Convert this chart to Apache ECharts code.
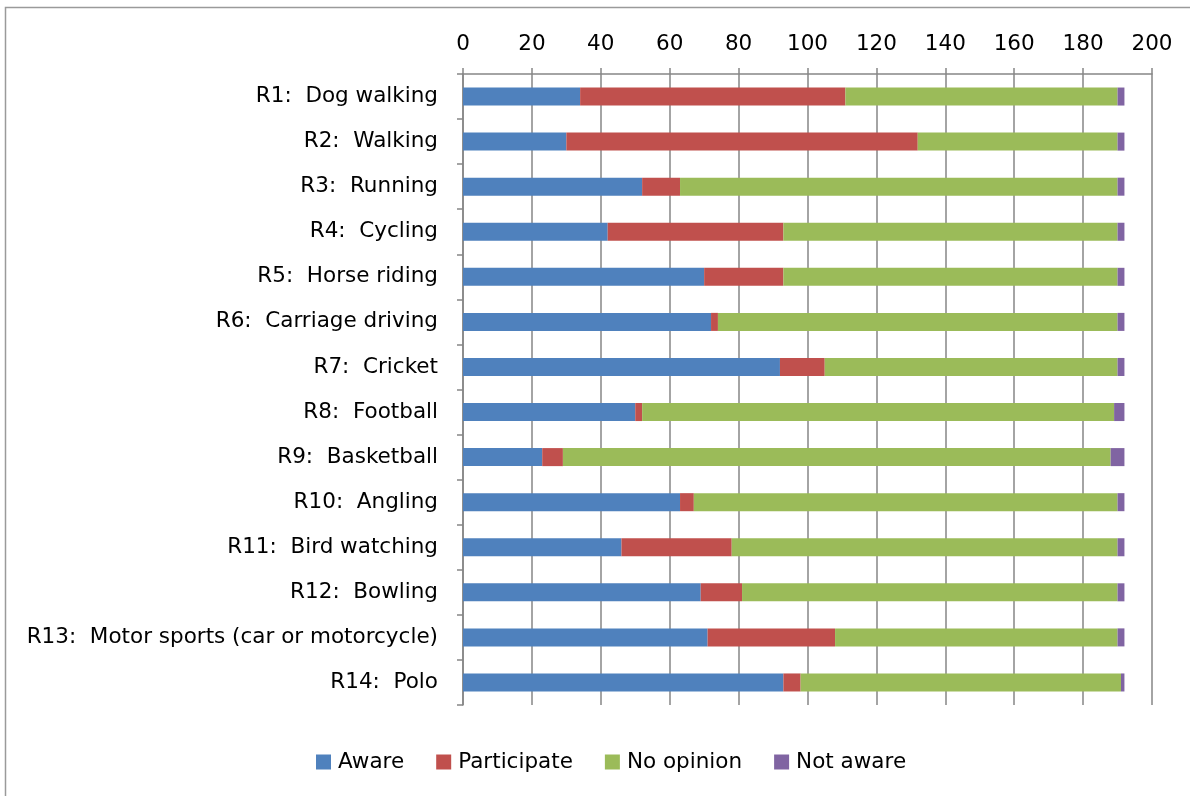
<!DOCTYPE html>
<html>
<head>
<meta charset="utf-8">
<script src="https://cdn.jsdelivr.net/npm/echarts@6/dist/echarts.min.js"></script>
<style>
  html, body { margin: 0; padding: 0; background: #fff; }
  #chart { width: 1190px; height: 796px; }
</style>
</head>
<body>
<div id="chart"></div>
<script>
// categories, top to bottom
var categories = [
  "R1:  Dog walking",
  "R2:  Walking",
  "R3:  Running",
  "R4:  Cycling",
  "R5:  Horse riding",
  "R6:  Carriage driving",
  "R7:  Cricket",
  "R8:  Football",
  "R9:  Basketball",
  "R10:  Angling",
  "R11:  Bird watching",
  "R12:  Bowling",
  "R13:  Motor sports (car or motorcycle)",
  "R14:  Polo"
];
var aware       = [34, 30, 52, 42, 70, 72, 92, 50, 23, 63, 46, 69, 71, 93];
var participate = [77, 102, 11, 51, 23, 2, 13, 2, 6, 4, 32, 12, 37, 5];
var noOpinion   = [79, 58, 127, 97, 97, 116, 85, 137, 159, 123, 112, 109, 82, 93];
var notAware    = [2, 2, 2, 2, 2, 2, 2, 3, 4, 2, 2, 2, 2, 1];
var xTicks = { min: 0, max: 200, interval: 20 };

var FONT = "DejaVu Sans";
var FS = 21.5;
var chart = echarts.init(document.getElementById("chart"));

function mk(name, data, color) {
  return {
    name: name,
    type: "bar",
    stack: "total",
    barCategoryGap: "60%",
    data: data,
    itemStyle: { color: color },
    emphasis: { disabled: true }
  };
}

chart.setOption({
  animation: false,
  textStyle: { fontFamily: FONT },
  graphic: [{
    type: "rect",
    shape: { x: 5.5, y: 7.5, width: 1200, height: 800 },
    style: { fill: "none", stroke: "#9a9a9a", lineWidth: 1.5 },
    silent: true
  }],
  grid: { left: 463, right: 38, top: 74, height: 631, containLabel: false },
  legend: {
    top: 746,
    left: 311,
    itemWidth: 15,
    itemHeight: 15,
    itemGap: 32,
    icon: "rect",
    textStyle: { fontFamily: FONT, fontSize: FS, color: "#000", padding: [0, 0, 0, 2] },
    data: ["Aware", "Participate", "No opinion", "Not aware"]
  },
  xAxis: {
    type: "value",
    position: "top",
    min: xTicks.min,
    max: xTicks.max,
    interval: xTicks.interval,
    axisLine: { show: true, lineStyle: { color: "#868686", width: 1.5 } },
    axisTick: { show: true, length: 6, lineStyle: { color: "#868686", width: 1.5 } },
    axisLabel: { margin: 19, fontSize: FS, color: "#000", fontFamily: FONT },
    splitLine: { show: true, lineStyle: { color: "#868686", width: 1.5 } }
  },
  yAxis: {
    type: "category",
    inverse: true,
    data: categories,
    axisLine: { show: true, lineStyle: { color: "#868686", width: 1.5 } },
    axisTick: { show: true, length: 6, lineStyle: { color: "#868686", width: 1.5 } },
    axisLabel: { margin: 25, fontSize: FS, color: "#000", fontFamily: FONT }
  },
  series: [
    mk("Aware", aware, "#4F81BD"),
    mk("Participate", participate, "#C0504D"),
    mk("No opinion", noOpinion, "#9BBB59"),
    mk("Not aware", notAware, "#8064A2")
  ]
});
</script>
</body>
</html>
